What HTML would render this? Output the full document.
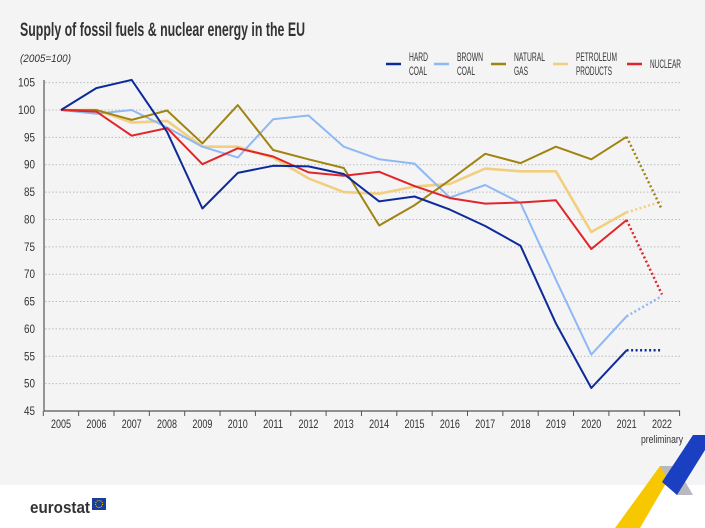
<!DOCTYPE html>
<html><head><meta charset="utf-8"><style>
html,body{margin:0;padding:0;background:#fff}
svg{display:block}
text{font-family:"Liberation Sans",sans-serif;fill:#333}
</style></head><body>
<svg id="s" width="705" height="528" viewBox="0 0 705 528" xmlns="http://www.w3.org/2000/svg">
<rect x="0" y="0" width="705" height="485" fill="#f4f4f4"/>
<text x="20" y="36" font-size="19" font-weight="bold" textLength="285" lengthAdjust="spacingAndGlyphs" fill="#222">Supply of fossil fuels &amp; nuclear energy in the EU</text>
<text x="20" y="62" font-size="11" font-style="italic" textLength="51" lengthAdjust="spacingAndGlyphs" fill="#444">(2005=100)</text>
<g id="grid"></g>
<g id="legend" font-size="12"></g>
<g id="series"></g>
<text x="662" y="443" font-size="11" text-anchor="middle" fill="#444" textLength="42" lengthAdjust="spacingAndGlyphs">preliminary</text>
<polygon points="660,466 676,466 640,528 615,528" fill="#f7c800"/>
<polygon points="660,466 676,466 693,495 677,495" fill="#b8b8c0"/>
<polygon points="693,435 705,435 705,450 677,495 662,482" fill="#1a3fc0"/>
<text x="30" y="513" font-size="17" fill="#6b6b74" font-weight="bold" textLength="60" lengthAdjust="spacingAndGlyphs">eurostat</text>
<rect x="92" y="498" width="14" height="12" fill="#1a3d9a"/>
<circle cx="99" cy="504" r="3.5" fill="none" stroke="#f4d000" stroke-width="1" stroke-dasharray="1 1"/>
</svg>
<script>
const NS="http://www.w3.org/2000/svg";
function el(p,t,a,txt){const e=document.createElementNS(NS,t);for(const k in a)e.setAttribute(k,a[k]);if(txt!==undefined)e.textContent=txt;document.getElementById(p).appendChild(e);return e;}
const X=i=>61+35.35*i, Y=v=>110+(100-v)*5.473;
for(let v=45;v<=105;v+=5){
  if(v>45) el("grid","line",{x1:45,x2:680,y1:Y(v),y2:Y(v),stroke:"#bbb","stroke-width":1,"stroke-dasharray":"1.5 2"});
  el("grid","text",{x:35,y:Y(v)+4,"font-size":12,"text-anchor":"end",fill:"#444",textLength:v>=100?17:11,lengthAdjust:"spacingAndGlyphs"},v);
}
el("grid","line",{x1:44,x2:44,y1:80,y2:411,stroke:"#555","stroke-width":1.2});
el("grid","line",{x1:44,x2:680,y1:411,y2:411,stroke:"#555","stroke-width":1.2});
for(let k=0;k<=18;k++){const x=43.3+35.35*k;el("grid","line",{x1:x,x2:x,y1:411,y2:416,stroke:"#555","stroke-width":1});}
for(let i=0;i<18;i++) el("grid","text",{x:X(i),y:428,"font-size":12,"text-anchor":"middle",fill:"#333",textLength:20,lengthAdjust:"spacingAndGlyphs"},2005+i);
const S=[
["#0d2a9b",[100,104,105.5,96,82,88.5,89.8,89.7,88.3,83.3,84.2,81.8,78.8,75.2,61,49.2,56.1,56.1]],
["#8fb8f5",[100,99.3,100,96.8,93.3,91.3,98.3,99,93.3,91,90.2,84,86.3,83,69,55.3,62.3,66]],
["#a08412",[100,100,98.2,99.9,93.9,100.9,92.7,91,89.4,78.9,82.6,87.2,92,90.3,93.3,91,95.1,81.8]],
["#f2cf80",[100,100,97.7,98,93.3,93.3,91.3,87.5,85,84.7,86,86.5,89.3,88.8,88.8,77.7,81.3,83.3]],
["#e0262a",[100,99.7,95.3,96.7,90.1,93,91.5,88.6,88,88.7,86.1,83.9,82.9,83.1,83.5,74.6,79.9,66.3]]];
[3,1,2,4,0].forEach(j=>{const [c,d]=S[j];
  const pts=d.slice(0,17).map((v,i)=>X(i).toFixed(1)+","+Y(v).toFixed(1)).join(" ");
  el("series","polyline",{points:pts,fill:"none",stroke:c,"stroke-width":j==3?2.6:2,"stroke-linejoin":"round"});
  el("series","line",{x1:X(16),y1:Y(d[16]),x2:X(17),y2:Y(d[17]),stroke:c,"stroke-width":2.5,"stroke-dasharray":"2 2.5"});
});
const L=[["#0d2a9b",386,"HARD",19,"COAL",18],["#8fb8f5",434,"BROWN",26,"COAL",18],["#a08412",491,"NATURAL",31,"GAS",14],["#f2cf80",553,"PETROLEUM",41,"PRODUCTS",36],["#e0262a",627,"NUCLEAR",31,"",0]];
L.forEach(([c,x,a,aw,b,bw])=>{el("legend","line",{x1:x,x2:x+15,y1:64,y2:64,stroke:c,"stroke-width":2.5});
 if(b){el("legend","text",{x:x+23,y:61,fill:"#333",textLength:aw,lengthAdjust:"spacingAndGlyphs"},a);el("legend","text",{x:x+23,y:75,fill:"#333",textLength:bw,lengthAdjust:"spacingAndGlyphs"},b);}
 else el("legend","text",{x:x+23,y:68,fill:"#333",textLength:aw,lengthAdjust:"spacingAndGlyphs"},a);});
</script>
</body></html>
